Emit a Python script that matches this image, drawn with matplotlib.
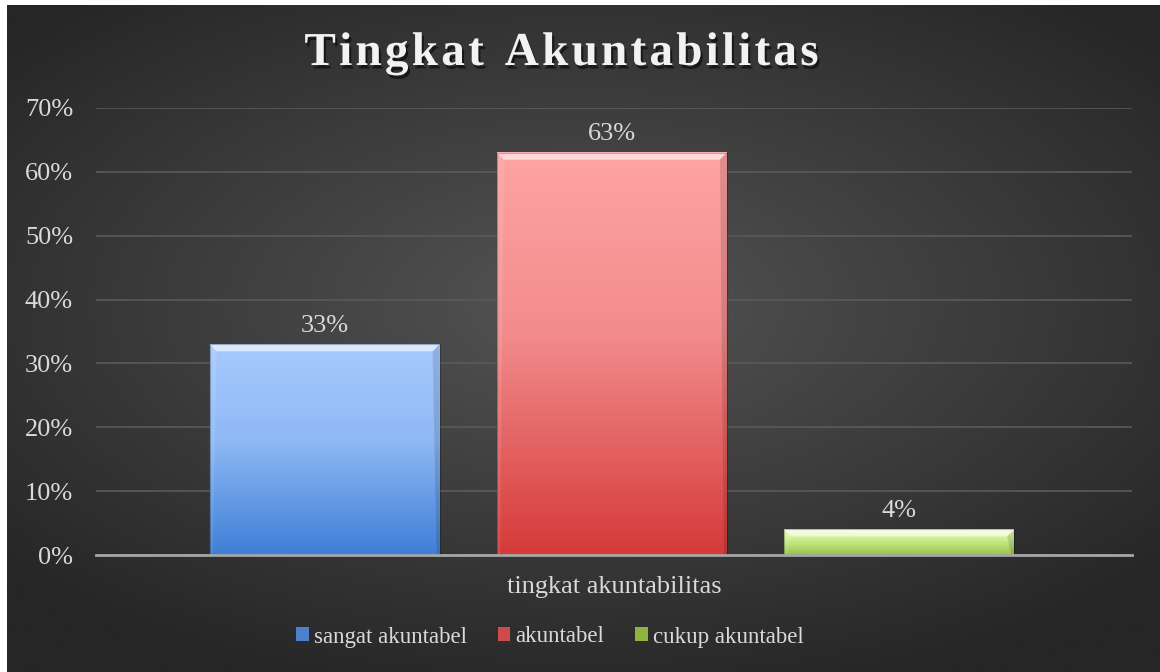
"""
Bar chart: Tingkat Akuntabilitas (dark theme, gradient bars)
"""

import numpy as np
from matplotlib import pyplot as plt
from matplotlib import patheffects as pe
from matplotlib.colors import LinearSegmentedColormap
from matplotlib.patches import Patch, Polygon

# -- Data --
chartTitle = 'Tingkat Akuntabilitas'
category = 'tingkat akuntabilitas'
seriesNames = ['sangat akuntabel', 'akuntabel', 'cukup akuntabel']
seriesValues = [0.33, 0.63, 0.04]
yTicks = [0.0, 0.1, 0.2, 0.3, 0.4, 0.5, 0.6, 0.7]

# -- Styles --
topColors = ['#a6caff', '#ffa3a3', '#eeffbe']
midColors = ['#8fb9f5', '#f28c8c', '#c8e98a']
botColors = ['#3f7fd6', '#d63a3a', '#98c444']
legendColors = ['#4a80cc', '#cc4c4c', '#8fb33f']
textColor = '#d9d9d9'
fontName = ['Liberation Serif', 'DejaVu Serif']
plt.rcParams['font.family'] = fontName

W, H, DPI = 1160, 672, 100
fig = plt.figure(figsize=(W/DPI, H/DPI), dpi=DPI)
fig.patch.set_facecolor('white')

# -- Background with radial gradient --
bgAx = fig.add_axes([7/W, 0, 1-7/W, 1-5/H])
yy, xx = np.mgrid[-1:1:300j, -1:1:500j]
rr = np.sqrt((xx/1.0)**2 + ((yy+0.1)/0.9)**2)
bgCmap = LinearSegmentedColormap.from_list('bg', ['#545454', '#3d3d3d', '#262626'])
bgAx.imshow(np.clip(rr/1.35, 0, 1), cmap=bgCmap, vmin=0, vmax=1,
            aspect='auto', extent=[0, 1, 0, 1], interpolation='bilinear')
bgAx.set_axis_off()

# -- Main axes --
ax = fig.add_axes([96/W, 1-555/H, (1132-96)/W, (555-108)/H])
ax.patch.set_alpha(0)
nBars = len(seriesValues)
barWidth = 0.222
barStep = 0.2773
xPos = (np.arange(nBars) - (nBars-1)/2) * barStep - 0.002

pxX = 1/(1132-96)      # one pixel in x data units
pxY = 0.7/(555-108)    # one pixel in y data units
for indBar, (xc, val) in enumerate(zip(xPos, seriesValues)):
    x0, x1 = xc-barWidth/2, xc+barWidth/2
    cmap = LinearSegmentedColormap.from_list(
        'b%d' % indBar, [(0, botColors[indBar]), (0.55, midColors[indBar]), (1, topColors[indBar])])
    grad = np.linspace(1, 0, 200)[:, None]
    ax.imshow(grad, cmap=cmap, vmin=0, vmax=1, aspect='auto', zorder=3,
              extent=[x0, x1, 0, val], interpolation='bilinear')
    # bevel highlight at top
    bh = min(7*pxY, val*0.3)
    bw = 7*pxX
    ax.add_patch(Polygon([[x0, val], [x1, val], [x1-bw, val-bh], [x0+bw, val-bh]],
                         closed=True, facecolor='white', alpha=0.6, lw=0, zorder=4))
    ax.add_patch(Polygon([[x1, val], [x1, 0], [x1-3*pxX, 0], [x1-bw, val-bh]],
                         closed=True, facecolor='black', alpha=0.12, lw=0, zorder=4))
    ax.add_patch(Polygon([[x0, val], [x0, 0], [x0+3*pxX, 0], [x0+bw, val-bh]],
                         closed=True, facecolor='white', alpha=0.1, lw=0, zorder=4))
    ax.plot([x0, x1, x1, x0, x0], [0, 0, val, val, 0], color='black', alpha=0.25, lw=0.8, zorder=4)
    ax.text(xc, val + 0.029, '{:.0%}'.format(val), ha='center', va='center',
            color=textColor, fontsize=19, zorder=5)

ax.set_xlim(-0.5, 0.5)
ax.set_ylim(0, 0.7)
ax.set_yticks(yTicks)
ax.set_yticklabels(['{:.0%}'.format(v) for v in yTicks], color=textColor, fontsize=19)
ax.set_xticks([])
ax.tick_params(axis='y', length=0, pad=16.5)
ax.grid(axis='y', color='#5a5a5a', lw=1.2, zorder=1)
for side in ['top', 'right', 'left']:
    ax.spines[side].set_visible(False)
ax.spines['bottom'].set_color('#a6a6a6')
ax.spines['bottom'].set_linewidth(2)
ax.spines['bottom'].set_zorder(6)

fig.text((96+1132)/2/W, 1-587/H, category, ha='center', va='center',
         color=textColor, fontsize=19)

# -- Title with letter spacing, drawn one character at a time --
renderer = fig.canvas.get_renderer()
titleKw = dict(color='#f2f2f2', fontsize=34, fontweight='bold', va='baseline', ha='left',
               path_effects=[pe.withSimplePatchShadow(offset=(1.5, -2.5), shadow_rgbFace='black', alpha=0.55)])
letterGap = 3.2  # px
widths = []
for ch in chartTitle:
    tmp = fig.text(0, 0, ch if ch != ' ' else 'n', **titleKw)
    w = tmp.get_window_extent(renderer).width
    widths.append(w*0.55 if ch == ' ' else w)
    tmp.remove()
totalW = sum(widths) + letterGap*(len(chartTitle)-1)
xCur = (297+826)/2 - totalW/2
for ch, w in zip(chartTitle, widths):
    if ch != ' ':
        fig.text(xCur/W, 1-65/H, ch, **titleKw)
    xCur += w + letterGap

handles = [Patch(facecolor=legendColors[i], edgecolor='none') for i in range(nBars)]
leg = fig.legend(handles, seriesNames, loc='center', bbox_to_anchor=(550/W, 1-637/H),
                 ncol=nBars, frameon=False, fontsize=16.5, handlelength=0.55,
                 handleheight=0.55, handletextpad=0.22, columnspacing=1.35)
for t in leg.get_texts():
    t.set_color(textColor)

fig.savefig('out.png', dpi=DPI, facecolor=fig.get_facecolor())
